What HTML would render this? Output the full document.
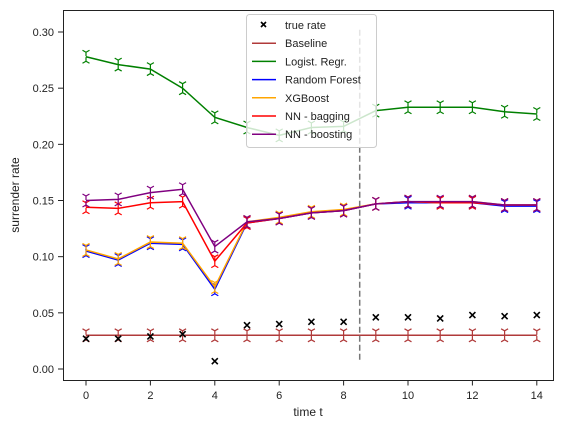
<!DOCTYPE html>
<html><head><meta charset="utf-8"><style>
body{margin:0;background:#fff;}
svg{font-family:"Liberation Sans","DejaVu Sans",sans-serif;}
</style></head><body>
<svg id="chart" width="568" height="430" xmlns="http://www.w3.org/2000/svg">
<rect x="0" y="0" width="568" height="430" fill="#fff"/>
<g id="plot"></g>
<rect x="63.5" y="10.5" width="490" height="370" fill="none" stroke="#222" stroke-width="1"/>
<text x="308" y="416" font-size="12" text-anchor="middle" fill="#222">time t</text>
<text transform="translate(19,195) rotate(-90)" font-size="12" text-anchor="middle" fill="#222">surrender rate</text>
</svg>
<script>
const xs=[0,1,2,3,4,5,6,7,8,9,10,11,12,13,14];
const xTicks=[0,2,4,6,8,10,12,14];
const yTicks=[0.00,0.05,0.10,0.15,0.20,0.25,0.30];
const trueRate=[0.027,0.027,0.029,0.031,0.007,0.039,0.040,0.042,0.042,0.046,0.046,0.045,0.048,0.047,0.048];
const baseline=[0.030,0.030,0.030,0.030,0.030,0.030,0.030,0.030,0.030,0.030,0.030,0.030,0.030,0.030,0.030];
const logreg=[0.278,0.271,0.267,0.250,0.224,0.215,0.208,0.215,0.216,0.230,0.233,0.233,0.233,0.229,0.227];
const rf=[0.105,0.097,0.112,0.111,0.071,0.130,0.134,0.139,0.141,0.147,0.148,0.148,0.148,0.145,0.145];
const xgb=[0.106,0.098,0.113,0.112,0.073,0.131,0.135,0.140,0.142,0.147,0.149,0.148,0.149,0.146,0.146];
const nnBag=[0.144,0.143,0.148,0.149,0.096,0.130,0.134,0.139,0.141,0.147,0.149,0.148,0.148,0.146,0.146];
const nnBoost=[0.150,0.151,0.157,0.160,0.109,0.131,0.134,0.139,0.141,0.147,0.149,0.149,0.149,0.146,0.146];
const errHalf=[0.004,0.004,0.004,0.004,0.004,0.004,0.004,0.004,0.004,0.004,0.004,0.004,0.004,0.004,0.004];
const splitT=8.5;

const NS="http://www.w3.org/2000/svg";
const X=v=>86+v*32.2;
const Y=v=>369-v*1123.3;
const plot=document.getElementById('plot');
const svg=document.getElementById('chart');
function mk(tag,attrs,parent){const e=document.createElementNS(NS,tag);for(const k in attrs)e.setAttribute(k,attrs[k]);(parent||plot).appendChild(e);return e;}

// ticks
xTicks.forEach(t=>{
  const l=mk('line',{x1:X(t),x2:X(t),y1:380.5,y2:385.5,stroke:'#222'},svg);
  
  
  const tx=mk('text',{x:X(t),y:399,'font-size':11,'text-anchor':'middle',fill:'#222'},svg);
  tx.textContent=t;
  
  
});
yTicks.forEach(t=>{
  const l=mk('line',{x1:58,x2:63.5,y1:Y(t),y2:Y(t),stroke:'#222'},svg);
  
  
  const tx=mk('text',{x:54,y:Y(t)+4,'font-size':11,'text-anchor':'end',fill:'#222'},svg);
  tx.textContent=t.toFixed(2);
  
  
});

function series(vals,color,name,showErr){
  const g=mk('g',{});
  
  
  mk('polyline',{points:vals.map((v,i)=>X(xs[i])+','+Y(v)).join(' '),fill:'none',stroke:color,'stroke-width':1.5},g);
  if(showErr){
    vals.forEach((v,i)=>{
      const x=X(xs[i]),yu=Y(v+errHalf[i]),yl=Y(v-errHalf[i]);
      // tri_down at upper
      mk('path',{d:`M${x},${yu}v4M${x},${yu}l-3.5,-2M${x},${yu}l3.5,-2`,stroke:color,'stroke-width':1.2,fill:'none'},g);
      // tri_up at lower
      mk('path',{d:`M${x},${yl}v-4M${x},${yl}l-3.5,2M${x},${yl}l3.5,2`,stroke:color,'stroke-width':1.2,fill:'none'},g);
    });
  }
}
series(baseline,'#b03a3a','baseline-series',true);
series(logreg,'green','logistic-regression-series',true);
series(rf,'blue','random-forest-series',true);
series(xgb,'orange','xgboost-series',true);
series(nnBag,'red','nn-bagging-series',true);
series(nnBoost,'purple','nn-boosting-series',true);

trueRate.forEach((v,i)=>{
  const x=X(xs[i]),y=Y(v);
  const m=mk('path',{d:`M${x-3},${y-3}L${x+3},${y+3}M${x-3},${y+3}L${x+3},${y-3}`,stroke:'#000','stroke-width':1.6});
  
  
});

const dl=mk('line',{x1:X(splitT),x2:X(splitT),y1:Y(0.302),y2:Y(0.006),stroke:'#777','stroke-width':1.5,'stroke-dasharray':'6,3'});



// legend
const lg=mk('g',{},svg);


mk('rect',{x:246.5,y:14.5,width:130,height:133,rx:3,fill:'rgba(255,255,255,0.8)',stroke:'#ccc'},lg);
const entries=[['true rate','#000',true],['Baseline','#b03a3a'],['Logist. Regr.','green'],['Random Forest','blue'],['XGBoost','orange'],['NN - bagging','red'],['NN - boosting','purple']];
entries.forEach((e,i)=>{
  const y=25+i*18.2;
  const eg=mk('g',{},lg);
  
  
  if(e[2]) mk('path',{d:`M${261},${y-3}l5,5M${261},${y+2}l5,-5`,stroke:'#000','stroke-width':1.6},eg);
  else mk('line',{x1:252,x2:276,y1:y,y2:y,stroke:e[1],'stroke-width':1.5},eg);
  const t=mk('text',{x:285,y:y+4,'font-size':11,fill:'#222'},eg);
  t.textContent=e[0];
});
</script>
</body></html>
